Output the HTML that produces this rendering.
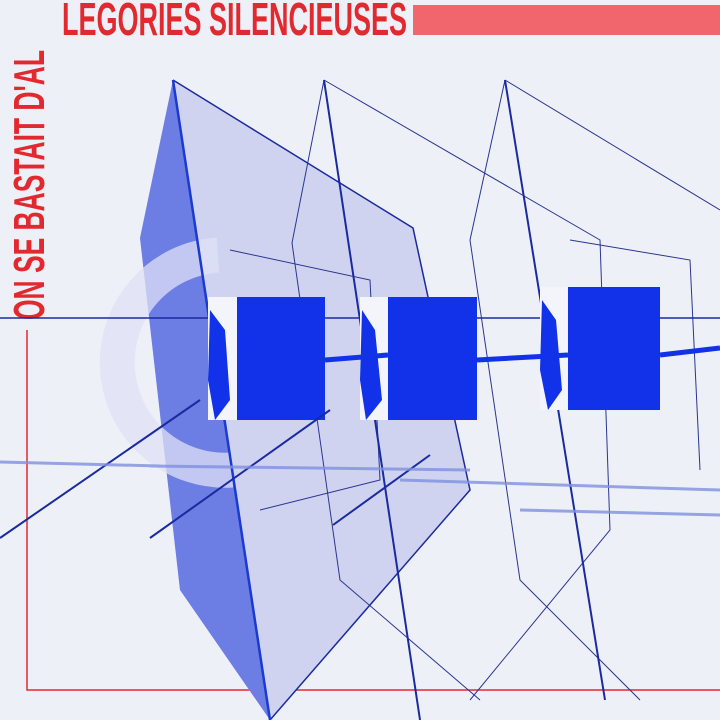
<!DOCTYPE html>
<html><head><meta charset="utf-8"><style>
html,body{margin:0;padding:0;background:#eef0f7;}
svg{display:block}
.t{font-family:"Liberation Sans",sans-serif;font-weight:bold;fill:#e12a30;}
</style></head><body>
<svg width="720" height="720" viewBox="0 0 720 720">
<rect width="720" height="720" fill="#eef0f7"/>
<rect x="413" y="5" width="307" height="30" fill="#f0666c"/>
<text class="t" x="62" y="35" font-size="46" textLength="345" lengthAdjust="spacingAndGlyphs">LEGORIES SILENCIEUSES</text>
<text class="t" transform="translate(44,320) rotate(-90)" font-size="44" textLength="270" lengthAdjust="spacingAndGlyphs">ON SE BASTAIT D'AL</text>
<polyline points="27,330 27,690 720,690" fill="none" stroke="#e12a30" stroke-width="1.5"/>
<polygon points="173,80 413,228 470,490 270,720 180,590 140,238" fill="#cfd3f0"/>
<polygon points="173,80 140,238 180,590 270,720 210,330" fill="#5a6de0" opacity="0.85"/>
<path d="M218,255 A105,105 0 0 0 232,470" fill="none" stroke="#dfe2f6" stroke-width="35" opacity="0.75"/>
<polyline points="173,80 413,228 470,490 270,720" fill="none" stroke="#1a2aa0" stroke-width="1.5"/>
<line x1="173" y1="80" x2="270" y2="720" stroke="#1a3ad0" stroke-width="2.5"/>
<g fill="none" stroke="#2a3590" stroke-width="1">
<polyline points="324,80 292,243 340,580 480,700"/>
<polyline points="324,80 600,240 610,530 470,700"/>
<polyline points="505,80 470,240 520,580 640,700"/>
<polyline points="505,80 720,210"/>
<polyline points="230,250 370,280 380,480 260,510"/>
<polyline points="570,240 690,260 700,470"/>
</g>
<line x1="324" y1="80" x2="420" y2="720" stroke="#1a2aa0" stroke-width="2"/>
<line x1="505" y1="80" x2="605" y2="700" stroke="#1a2aa0" stroke-width="2"/>
<line x1="0" y1="318" x2="720" y2="318" stroke="#1a2aa0" stroke-width="1.5"/>
<g>
<rect x="208" y="297" width="30" height="123" fill="#f4f5fb"/>
<rect x="237" y="297" width="88" height="123" fill="#1132e8"/>
<rect x="360" y="297" width="30" height="123" fill="#f4f5fb"/>
<rect x="388" y="297" width="89" height="123" fill="#1132e8"/>
<rect x="540" y="287" width="30" height="123" fill="#f4f5fb"/>
<rect x="568" y="287" width="92" height="123" fill="#1132e8"/>
<polygon points="210,310 225,330 230,400 215,420 208,380" fill="#1132e8"/>
<polygon points="362,310 375,330 382,400 366,420 360,380" fill="#1132e8"/>
<polygon points="542,300 556,320 562,390 548,410 540,370" fill="#1132e8"/>
<line x1="325" y1="360" x2="388" y2="355" stroke="#1132e8" stroke-width="5"/>
<line x1="477" y1="360" x2="568" y2="355" stroke="#1132e8" stroke-width="5"/>
<line x1="660" y1="355" x2="720" y2="348" stroke="#1132e8" stroke-width="5"/>
</g>
<g stroke="#1a2aa0" stroke-width="2">
<line x1="0" y1="538" x2="200" y2="400"/>
<line x1="150" y1="538" x2="330" y2="410"/>
<line x1="333" y1="525" x2="430" y2="455"/>
</g>
<g stroke="#8090e0" stroke-width="3" opacity="0.8">
<line x1="0" y1="462" x2="160" y2="466"/>
<line x1="150" y1="466" x2="470" y2="470"/>
<line x1="400" y1="480" x2="720" y2="490"/>
<line x1="520" y1="510" x2="720" y2="515"/>
</g>
</svg>
</body></html>
